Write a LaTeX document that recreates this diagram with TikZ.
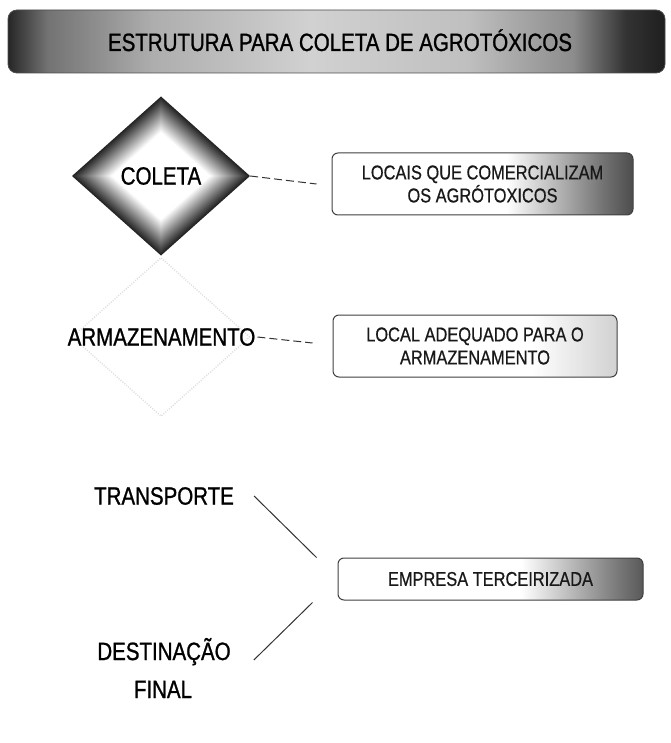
\documentclass[tikz,border=0pt]{standalone}
\usepackage{fontspec}
\setmainfont{Liberation Sans}[FakeStretch=0.82,FakeBold=1]
\newfontfamily\boxfont{Liberation Sans}[FakeStretch=0.82,FakeBold=0.6]
\usetikzlibrary{shapes.geometric}
\pgfdeclarehorizontalshading{bannershade}{100bp}{color(0bp)=(black!85); color(25bp)=(black!85); color(28bp)=(black!55); color(36bp)=(black!32); color(48bp)=(black!18); color(60bp)=(black!25); color(68bp)=(black!45); color(72bp)=(black!80); color(75bp)=(black!88); color(100bp)=(black!88)}
\pgfdeclarehorizontalshading{boxshadeA}{100bp}{color(0bp)=(white); color(25bp)=(white); color(54bp)=(white); color(70bp)=(black!55); color(75bp)=(black!70); color(100bp)=(black!70)}
\pgfdeclarehorizontalshading{boxshadeB}{100bp}{color(0bp)=(white); color(25bp)=(white); color(60bp)=(white); color(75bp)=(black!18); color(100bp)=(black!18)}
\pgfdeclarehorizontalshading{boxshadeC}{100bp}{color(0bp)=(white); color(25bp)=(white); color(55bp)=(white); color(70bp)=(black!50); color(75bp)=(black!65); color(100bp)=(black!65)}
\tikzset{
  lbl/.style={font=\fontsize{25}{30}\selectfont, inner sep=2pt, text=black},
  boxtxt/.style={font=\boxfont\fontsize{20}{23}\selectfont, align=center, text=black!90},
  sbox/.style={boxtxt, rectangle, rounded corners=6pt, draw=black!75, line width=1pt},
  conn/.style={draw=black!80, line width=1pt},
  dconn/.style={conn, dash pattern=on 8pt off 4pt},
}
\begin{document}
\begin{tikzpicture}[x=1pt,y=-1pt]
\useasboundingbox (0,0) rectangle (670,743);
% banner
\node[rectangle, rounded corners=9pt, minimum width=657pt, minimum height=63pt, shading=bannershade, draw=black!70, line width=0.8pt] (ban) at (336.5,41.5) {};
\node[lbl, anchor=base] (title) at (340,51) {ESTRUTURA PARA COLETA DE AGROTÓXICOS};
% COLETA diamond with diamond-shaped gradient
\coordinate (cc) at (161,176);
\foreach \i in {0,...,24}{
  \pgfmathsetmacro\s{1-0.019*\i}
  \pgfmathsetmacro\c{max(0,86-3.7*\i)}
  \fill[black!\c, shift={(cc)}, scale=\s] (-89,0) -- (0,-79.5) -- (89,0) -- (0,79.5) -- cycle;
}
\node[diamond, aspect=1.12, minimum width=178pt, minimum height=159pt, inner sep=0pt, lbl] (col) at (cc) {COLETA};
% ghost diamond
\node[diamond, aspect=1.12, minimum width=178pt, minimum height=159pt, draw=black!13, line width=1.5pt, dash pattern=on 1pt off 1.5pt] (gh) at (161,337) {};
\node[lbl] (arm) at (161.5,337) {ARMAZENAMENTO};
\node[lbl] (tr) at (164,496) {TRANSPORTE};
\node[lbl, anchor=base] (dst) at (164,660) {DESTINAÇÃO};
\node[lbl, anchor=base] (fin) at (163,698) {FINAL};
% boxes
\node[sbox, shading=boxshadeA, minimum width=301pt, minimum height=62pt] (e1) at (482.5,184) {LOCAIS QUE COMERCIALIZAM\\OS AGRÓTOXICOS};
\node[sbox, shading=boxshadeB, minimum width=284pt, minimum height=62pt] (e2) at (475,346) {LOCAL ADEQUADO PARA O\\ARMAZENAMENTO};
\node[sbox, shading=boxshadeC, minimum width=305pt, minimum height=42pt] (e3) at (490.5,579) {EMPRESA TERCEIRIZADA};
% connectors
\draw[dconn] (col.east) -- ([xshift=-15pt]e1.west);
\draw[dconn] (arm.east) -- ([xshift=-20pt,yshift=3pt]e2.west);
\draw[conn] ([xshift=18pt]tr.east) -- ([xshift=-21pt]e3.north west);
\draw[conn] ([xshift=21pt]dst.base east) -- ([xshift=-25pt,yshift=-2pt]e3.south west);
\end{tikzpicture}
\end{document}
